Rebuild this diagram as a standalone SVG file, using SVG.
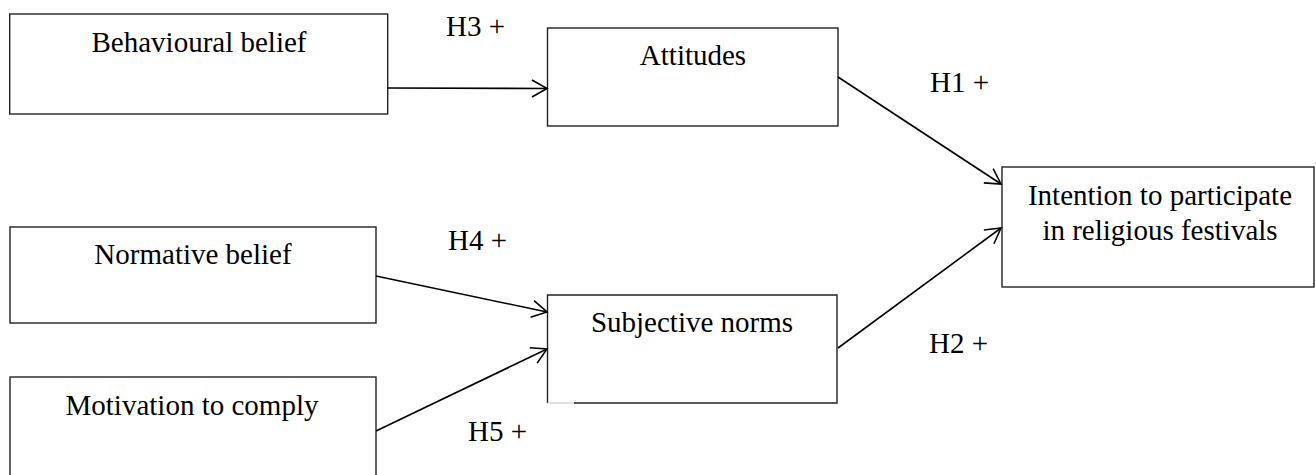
<svg xmlns="http://www.w3.org/2000/svg" width="1316" height="475" viewBox="0 0 1316 475">
<style>
.box{fill:#fff;stroke:#222;stroke-width:1.4}
.t{font-family:"Liberation Serif","Times New Roman",serif;font-size:29px;fill:#000}
.m{text-anchor:middle}
.c{fill:none;stroke:#000;stroke-width:1.6}
</style>
<defs>
<marker id="ah" markerUnits="userSpaceOnUse" markerWidth="20" markerHeight="20" viewBox="-17 -10 20 20" refX="0" refY="0" orient="auto">
<path d="M -15 -8.5 L 0 0 L -15 8.5" fill="none" stroke="#000" stroke-width="1.6"/>
</marker>
</defs>
<rect width="1316" height="475" fill="#fff"/>
<g id="behavioural-belief">
<rect class="box" x="9.7" y="14" width="378" height="100"/>
<text class="t m" x="199" y="52">Behavioural belief</text>
</g>
<g id="attitudes">
<rect class="box" x="547.5" y="28" width="290.5" height="98"/>
<text class="t m" x="693" y="65">Attitudes</text>
</g>
<g id="normative-belief">
<rect class="box" x="10" y="227" width="366" height="96"/>
<text class="t m" x="193" y="264">Normative belief</text>
</g>
<g id="motivation-to-comply">
<rect class="box" x="10" y="377" width="366" height="110"/>
<text class="t m" x="192" y="415">Motivation to comply</text>
</g>
<g id="subjective-norms">
<path d="M574 403 L837 403 L837 295 L547.5 295 L547.5 403" fill="#fff" stroke="#222" stroke-width="1.4"/>
<line x1="547.5" y1="403" x2="574" y2="403" stroke="#ccc" stroke-width="1.2"/>
<text class="t m" x="692" y="332">Subjective norms</text>
</g>
<g id="intention">
<rect class="box" x="1002" y="167" width="312" height="120"/>
<text class="t m" x="1160" y="205">Intention to participate</text>
<text class="t m" x="1160" y="240">in religious festivals</text>
</g>
<g id="connectors">
<line class="c" x1="388" y1="88" x2="547" y2="88.5" marker-end="url(#ah)"/>
<line class="c" x1="838" y1="77" x2="1001" y2="184" marker-end="url(#ah)"/>
<line class="c" x1="376" y1="276" x2="547" y2="312" marker-end="url(#ah)"/>
<line class="c" x1="376" y1="431" x2="547" y2="349" marker-end="url(#ah)"/>
<line class="c" x1="838" y1="348" x2="1001" y2="228" marker-end="url(#ah)"/>
</g>
<g id="labels">
<text class="t" x="446" y="36">H3 +</text>
<text class="t" x="930" y="92">H1 +</text>
<text class="t" x="448" y="250">H4 +</text>
<text class="t" x="468" y="441">H5 +</text>
<text class="t" x="929" y="353">H2 +</text>
</g>
</svg>
